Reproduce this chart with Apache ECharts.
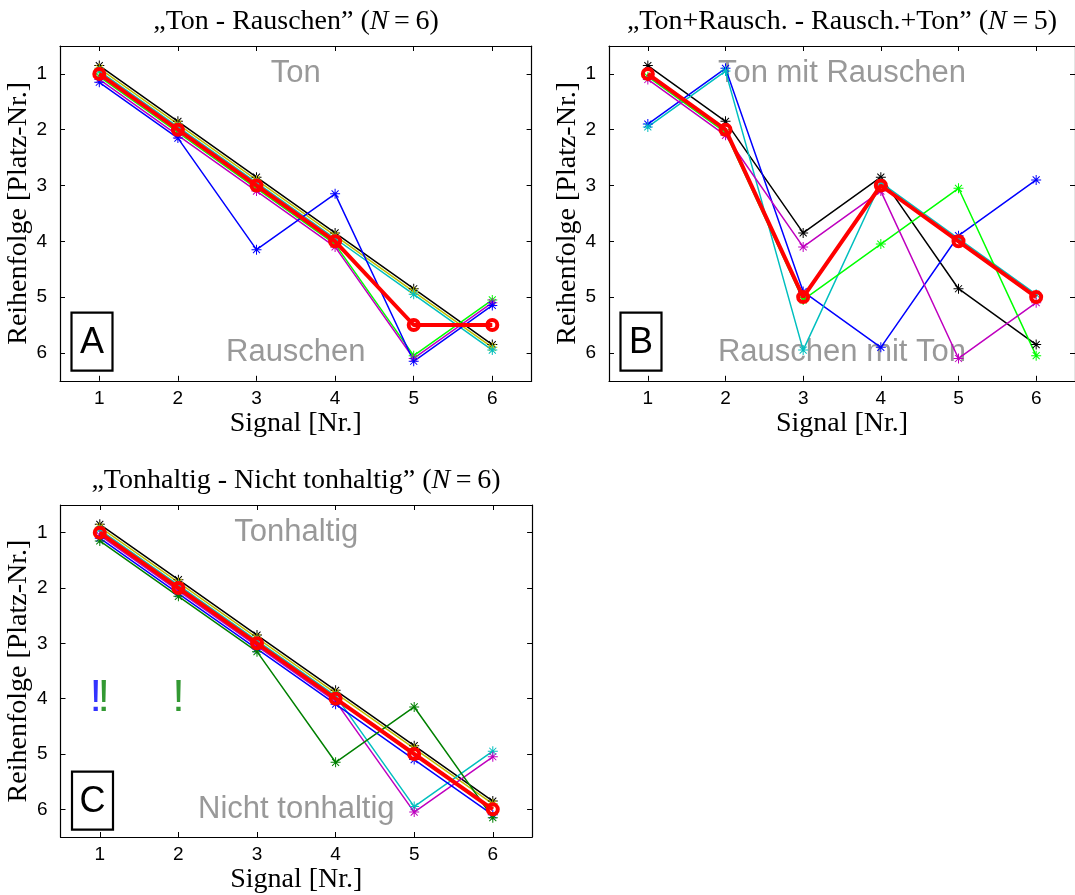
<!DOCTYPE html>
<html>
<head>
<meta charset="utf-8">
<script src="https://cdn.jsdelivr.net/npm/echarts@6/dist/echarts.min.js"></script>
<style>
  html, body { margin: 0; padding: 0; background: #ffffff; }
  #chart { width: 1075px; height: 895px; }
</style>
</head>
<body>
<div id="chart"></div>
<script>
// Signal numbers on the x axis and rank ticks on the y axis
const signals = [1, 2, 3, 4, 5, 6];
const rankTicks = [1, 2, 3, 4, 5, 6];

// Panel A: "Ton - Rauschen" (N=6), ranks per listener (drawn slightly staggered)
const aBlack   = [0.85, 1.85, 2.85, 3.85, 4.85, 5.85];
const aYellow  = [0.90, 1.90, 2.90, 3.90, 4.90, 5.90];
const aCyan    = [0.95, 1.95, 2.95, 3.95, 4.95, 5.95];
const aGreen   = [1.05, 2.05, 3.05, 4.05, 6.05, 5.05];
const aMagenta = [1.10, 2.10, 3.10, 4.10, 6.10, 5.10];
const aBlue    = [1.15, 2.15, 4.15, 3.15, 6.15, 5.15];
const aMedian  = [1, 2, 3, 4, 5.5, 5.5];

// Panel B: "Ton+Rausch. - Rausch.+Ton" (N=5)
const bBlack   = [0.85, 1.85, 3.85, 2.85, 4.85, 5.85];
const bBlue    = [1.90, 0.90, 4.90, 5.90, 3.90, 2.90];
const bCyan    = [1.95, 0.95, 5.95, 2.95, 3.95, 4.95];
const bGreen   = [1.05, 2.05, 5.05, 4.05, 3.05, 6.05];
const bMagenta = [1.10, 2.10, 4.10, 3.10, 6.10, 5.10];
const bMedian  = [1, 2, 5, 3, 4, 5];

// Panel C: "Tonhaltig - Nicht tonhaltig" (N=6)
const cBlack   = [0.85, 1.85, 2.85, 3.85, 4.85, 5.85];
const cYellow  = [0.90, 1.90, 2.90, 3.90, 4.90, 5.90];
const cCyan    = [0.95, 1.95, 2.95, 3.95, 5.95, 4.95];
const cMagenta = [1.05, 2.05, 3.05, 4.05, 6.05, 5.05];
const cBlue    = [1.10, 2.10, 3.10, 4.10, 5.10, 6.10];
const cGreen   = [1.15, 2.15, 3.15, 5.15, 4.15, 6.15];
const cMedian  = [1, 2, 3, 4, 5, 6];

const SERIF = '"Liberation Serif", "Times New Roman", serif';
const SANS = '"Liberation Sans", Arial, Helvetica, sans-serif';
const GREY = '#7f7f7f';

const C_BLACK = '#000000', C_YELLOW = '#bfbf00', C_CYAN = '#00bfbf',
      C_GREEN = '#00ff00', C_DKGREEN = '#008000', C_MAGENTA = '#bf00bf',
      C_BLUE = '#0000ff', C_RED = '#ff0000';

// MATLAB-like '*' marker: plus and cross overlaid
const ASTERISK = 'path://M9 0H11V20H9Z M0 9H20V11H0Z ' +
  'M2.3 3.7L3.7 2.3L17.7 16.3L16.3 17.7Z M16.3 2.3L17.7 3.7L3.7 17.7L2.3 16.3Z';

const panels = [
  {
    grid: { left: 60, top: 46, width: 471.6, height: 334.8 },
    title: '„Ton - Rauschen” ({i|N}\u2009=\u20096)', titleX: 296, titleY: 22,
    lines: [[aBlack, C_BLACK], [aYellow, C_YELLOW], [aCyan, C_CYAN],
            [aGreen, C_GREEN], [aMagenta, C_MAGENTA], [aBlue, C_BLUE]],
    median: aMedian, upper: 'Ton', lower: 'Rauschen', letter: 'A'
  },
  {
    grid: { left: 609, top: 46, width: 471.6, height: 334.8 },
    title: '„Ton+Rausch. - Rausch.+Ton” ({i|N}\u2009=\u20095)', titleX: 842, titleY: 22,
    lines: [[bBlack, C_BLACK], [bBlue, C_BLUE], [bCyan, C_CYAN],
            [bGreen, C_GREEN], [bMagenta, C_MAGENTA]],
    median: bMedian, upper: 'Ton mit Rauschen', lower: 'Rauschen mit Ton', letter: 'B'
  },
  {
    grid: { left: 60.5, top: 505, width: 471.6, height: 334.8 },
    title: '„Tonhaltig - Nicht tonhaltig” ({i|N}\u2009=\u20096)', titleX: 296, titleY: 481,
    lines: [[cBlack, C_BLACK], [cYellow, C_YELLOW], [cCyan, C_CYAN],
            [cMagenta, C_MAGENTA], [cBlue, C_BLUE], [cGreen, C_DKGREEN]],
    median: cMedian, upper: 'Tonhaltig', lower: 'Nicht tonhaltig', letter: 'C'
  }
];

const toPoints = arr => signals.map((s, i) => [s, arr[i]]);

const grids = [], xAxes = [], yAxes = [], series = [], graphics = [];

panels.forEach((p, k) => {
  grids.push(Object.assign({ containLabel: false }, p.grid));

  const axisLine = { show: true, onZero: false, lineStyle: { color: '#000', width: 1.2 } };
  const tick = (vals) => ({ show: true, inside: true, length: 5, customValues: vals,
                            lineStyle: { color: '#000', width: 1 } });

  xAxes.push({
    gridIndex: k, type: 'value', min: 0.5, max: 6.5, position: 'bottom',
    axisLine, axisTick: tick(signals), splitLine: { show: false },
    axisLabel: { customValues: signals, fontFamily: SANS, fontSize: 19, color: '#000', margin: 8 },
    name: 'Signal [Nr.]', nameLocation: 'middle', nameGap: 29,
    nameTextStyle: { fontFamily: SERIF, fontSize: 28, color: '#000' }
  });
  xAxes.push({
    gridIndex: k, type: 'value', min: 0.5, max: 6.5, position: 'top',
    axisLine, axisTick: tick(signals), splitLine: { show: false },
    axisLabel: { show: false }
  });
  yAxes.push({
    gridIndex: k, type: 'value', min: 0.5, max: 6.5, inverse: true, position: 'left',
    axisLine, axisTick: tick(rankTicks), splitLine: { show: false },
    axisLabel: { customValues: rankTicks, fontFamily: SANS, fontSize: 19, color: '#000', margin: 13 },
    name: 'Reihenfolge [Platz-Nr.]', nameLocation: 'middle', nameGap: 18,
    nameTextStyle: { fontFamily: SERIF, fontSize: 28, color: '#000' }
  });
  yAxes.push({
    gridIndex: k, type: 'value', min: 0.5, max: 6.5, inverse: true, position: 'right',
    axisLine, axisTick: tick(rankTicks), splitLine: { show: false },
    axisLabel: { show: false }
  });

  const xi = 2 * k, yi = 2 * k;

  // grey category captions at the top and bottom of each panel
  series.push({
    type: 'scatter', xAxisIndex: xi, yAxisIndex: yi, symbolSize: 0, silent: true, z: 1,
    data: [
      { value: [3.5, 1], label: { formatter: p.upper } },
      { value: [3.5, 6], label: { formatter: p.lower } }
    ],
    label: { show: true, position: 'inside', fontFamily: SANS, fontSize: 31, color: GREY }
  });

  p.lines.forEach(([arr, col]) => {
    series.push({
      type: 'line', xAxisIndex: xi, yAxisIndex: yi, data: toPoints(arr),
      symbol: ASTERISK, symbolSize: 10, showSymbol: true, z: 2,
      itemStyle: { color: col }, lineStyle: { color: col, width: 1.5 },
      emphasis: { disabled: true }
    });
  });

  series.push({
    type: 'line', xAxisIndex: xi, yAxisIndex: yi, data: toPoints(p.median),
    symbol: 'circle', symbolSize: 10, showSymbol: true, z: 3,
    itemStyle: { color: 'rgba(0,0,0,0)', borderColor: C_RED, borderWidth: 4 },
    lineStyle: { color: C_RED, width: 4 },
    emphasis: { disabled: true }
  });

  // panel title
  graphics.push({
    type: 'text', x: p.titleX, y: p.titleY, z: 10,
    style: {
      text: p.title, fill: '#000', font: '28px ' + SERIF,
      textAlign: 'center', textVerticalAlign: 'middle',
      rich: { i: { fontStyle: 'italic', fontFamily: SERIF, fontSize: 28 } }
    }
  });

  // panel letter in a framed box at the lower left
  const bx = p.grid.left + 11.5, by = p.grid.top + 266.7;
  graphics.push({
    type: 'group', z: 10,
    children: [
      { type: 'rect', shape: { x: bx, y: by, width: 41, height: 58 },
        style: { fill: '#fff', stroke: '#000', lineWidth: 2.2 } },
      { type: 'text', x: bx + 20.5, y: by + 30,
        style: { text: p.letter, font: '36px ' + SANS, fill: '#000',
                 textAlign: 'center', textVerticalAlign: 'middle' } }
    ]
  });
});

// exclamation marks in panel C (a blue and a green one side by side at signal 1)
const bangLabel = (color, dx) => ({
  formatter: '!', color: color, offset: [dx, 0]
});
series.push({
  type: 'scatter', xAxisIndex: 4, yAxisIndex: 4, symbolSize: 0, silent: true, z: 4,
  data: [
    { value: [1, 4], label: bangLabel(C_BLUE, -4) },
    { value: [1, 4], label: bangLabel(C_DKGREEN, 4) },
    { value: [2, 4], label: bangLabel(C_DKGREEN, 0) }
  ],
  label: { show: true, position: 'inside', fontFamily: SANS, fontSize: 45 }
});

const chart = echarts.init(document.getElementById('chart'), null, { renderer: 'canvas' });
chart.setOption({
  animation: false,
  backgroundColor: '#ffffff',
  grid: grids,
  xAxis: xAxes,
  yAxis: yAxes,
  series: series,
  graphic: graphics
});
</script>
</body>
</html>
